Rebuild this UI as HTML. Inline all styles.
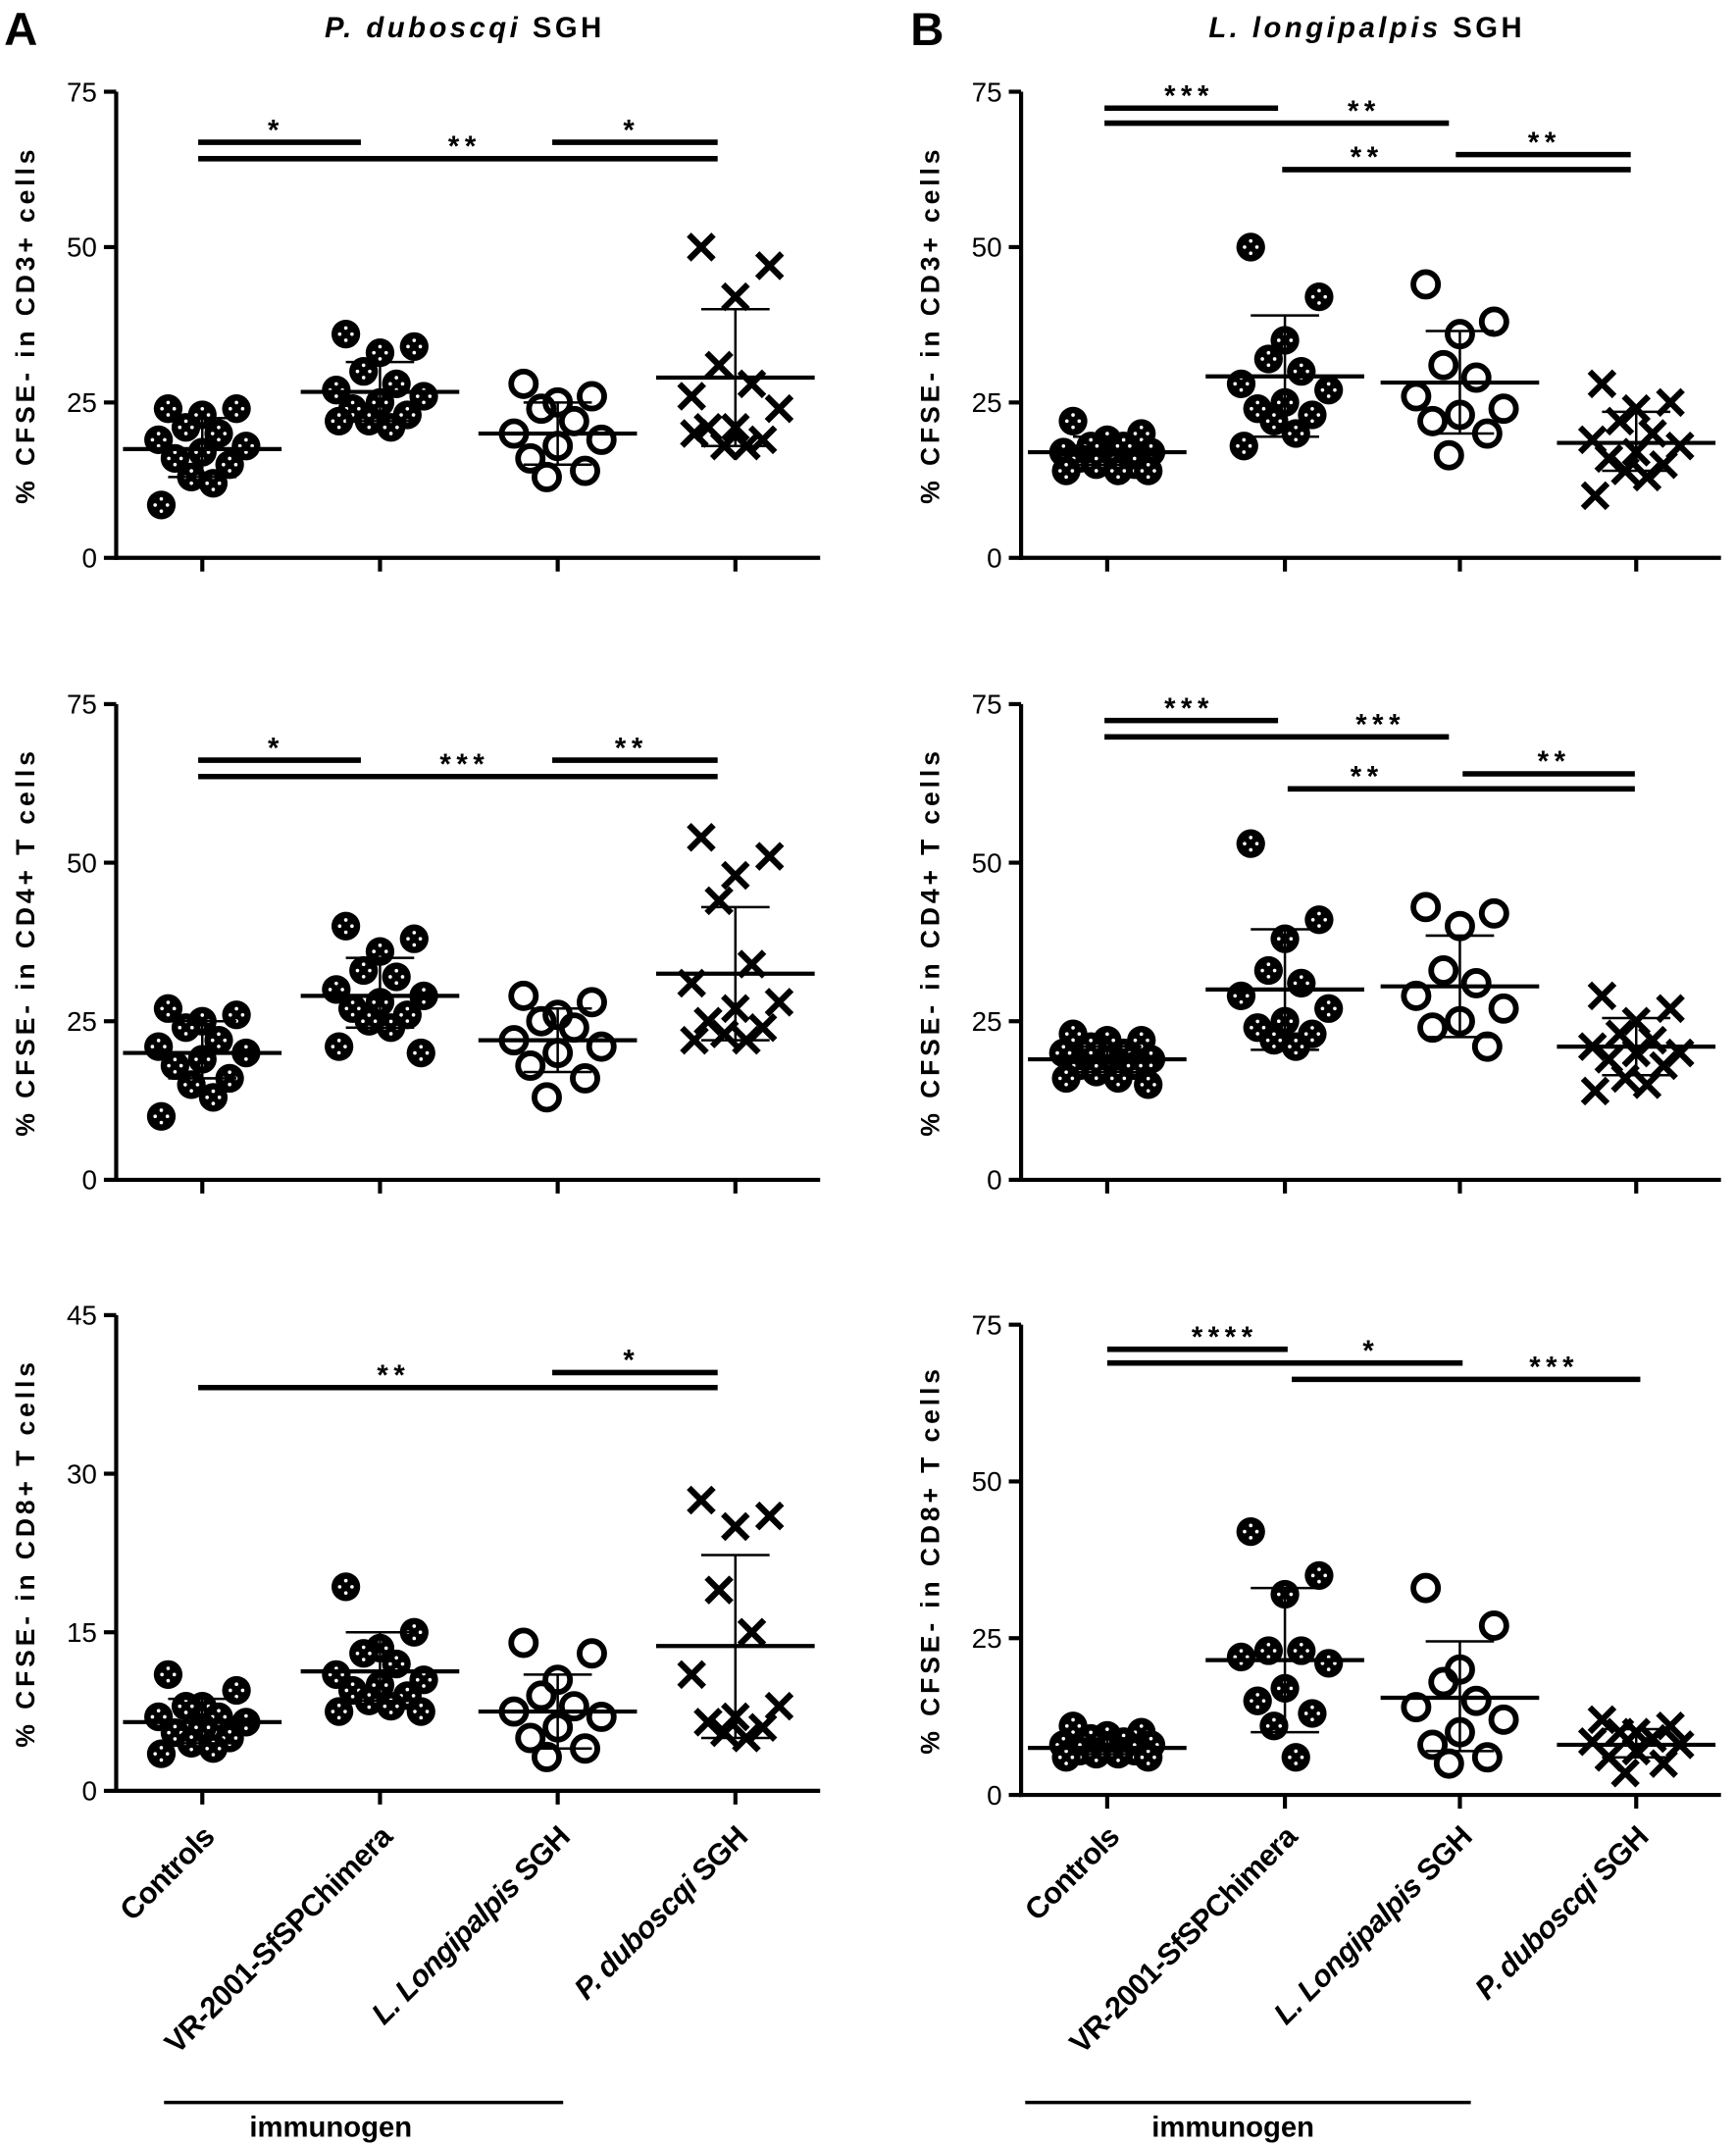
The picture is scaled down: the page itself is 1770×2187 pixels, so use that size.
<!DOCTYPE html>
<html><head><meta charset="utf-8"><style>html,body{margin:0;padding:0;background:#fff}svg{display:block}</style></head>
<body>
<svg id="s" xmlns="http://www.w3.org/2000/svg" width="1770" height="2187" viewBox="0 0 1270 1569" font-family="Liberation Sans, Arial, sans-serif">
<defs>
<g id="fc"><circle r="10.5" fill="#000"/><circle cx="0" cy="-4.5" r="1.3" fill="#fff"/><circle cx="0" cy="4.5" r="1.3" fill="#fff"/><circle cx="-4.5" cy="0" r="1.3" fill="#fff"/><circle cx="4.5" cy="0" r="1.3" fill="#fff"/></g>
<g id="oc"><circle r="9" fill="none" stroke="#000" stroke-width="4.2"/></g>
<g id="xx"><path d="M-9,-9L9,9M9,-9L-9,9" stroke="#000" stroke-width="4.5"/></g>
</defs>
<text x="3" y="33" font-size="34" font-weight="bold">A</text>
<text x="666" y="33" font-size="34" font-weight="bold">B</text>
<text x="340" y="27" font-size="21" font-weight="bold" text-anchor="middle" letter-spacing="2.5"><tspan font-style="italic">P. duboscqi</tspan> SGH</text>
<text x="1000" y="27" font-size="21" font-weight="bold" text-anchor="middle" letter-spacing="2.5"><tspan font-style="italic">L. longipalpis</tspan> SGH</text>
<g id="plots"></g>
</svg>
<script>
const NS="http://www.w3.org/2000/svg";const P=document.getElementById('plots');
function el(t,a,txt){const e=document.createElementNS(NS,t);for(const k in a)e.setAttribute(k,a[k]);if(txt!==undefined)e.textContent=txt;P.appendChild(e);return e;}
function line(x1,y1,x2,y2,w){el('line',{x1,y1,x2,y2,stroke:'#000','stroke-width':w||2});}
const marks=['fc','fc','oc','xx'];
function panel(o){
 const {ax,xs,ytop,ybot,max,ticks,label,groups,brackets}=o;
 const sy=v=>ybot-(v/max)*(ybot-ytop);
 const xend=xs[3]+62;
 line(ax,ytop,ax,ybot+1.5,3);line(ax-1.5,ybot,xend,ybot,3);
 ticks.forEach(t=>{line(ax-9,sy(t),ax,sy(t),3);el('text',{x:ax-14,y:sy(t)+7,'font-size':20,'text-anchor':'end'},t);});
 xs.forEach(x=>line(x,ybot,x,ybot+10,3));
 const cy=(ytop+ybot)/2;
 el('text',{x:0,y:0,'font-size':19,'font-weight':'bold','text-anchor':'middle','letter-spacing':'2.8',transform:`translate(${ax-60},${cy}) rotate(-90)`},label);
 groups.forEach((g,i)=>{
  const x=xs[i];
  g.v.forEach((v,j)=>{const off=g.o[j];el('use',{href:'#'+marks[i],x:x+off,y:sy(v)});});
  line(x-58,sy(g.m),x+58,sy(g.m),3);
  line(x,sy(g.lo),x,sy(g.hi),1.8);
  line(x-25,sy(g.lo),x+25,sy(g.lo),1.8);line(x-25,sy(g.hi),x+25,sy(g.hi),1.8);
 });
 brackets.forEach(b=>{line(b[0],b[1],b[2],b[1],4);el('text',{x:b[3],y:b[1]-2,'font-size':21,'font-weight':'bold','text-anchor':'middle','letter-spacing':'4'},b[4]);});
}
const XA=[148,278,408,538],XB=[810,940,1068,1197];
const off13=[-25,25,0,-12,12,-32,32,0,-20,20,-8,8,-30,30];
function mk(m,lo,hi,v){return {m,lo,hi,v,o:v.map((_,j)=>off13[j%off13.length])};}
panel({ax:85,xs:XA,ytop:67,ybot:408,max:75,ticks:[0,25,50,75],label:'% CFSE- in CD3+ cells',
 groups:[mk(17.5,13,22.5,[24,24,23,21,20,19,18,17,16,15,13,12,8.5]),mk(26.7,22,31.5,[36,34,33,30,28,27,26,25,24,23,22,21,22]),mk(20,15,25,[28,26,25,24,22,20,19,18,16,14,13]),mk(29,18,40,[50,47,42,31,28,26,24,21,21,19,18,18,20])],
 brackets:[[145,104,264,202,'*'],[404,104,525,462,'*'],[145,116,525,340,'**']]});
panel({ax:85,xs:XA,ytop:515,ybot:863,max:75,ticks:[0,25,50,75],label:'% CFSE- in CD4+ T cells',
 groups:[mk(20,16,25,[27,26,25,24,22,21,20,19,18,16,15,13,10]),mk(29,24,35,[40,38,36,33,32,30,29,28,27,26,25,24,21,20]),mk(22,17,27,[29,28,26,25,24,22,21,20,18,16,13]),mk(32.5,22,43,[54,51,48,44,34,31,28,27,25,24,23,22,22])],
 brackets:[[145,556,264,202,'*'],[404,556,525,462,'**'],[145,568,525,340,'***']]});
panel({ax:85,xs:XA,ytop:962,ybot:1310,max:45,ticks:[0,15,30,45],label:'% CFSE- in CD8+ T cells',
 groups:[mk(6.5,4.5,8.7,[11,9.5,8,8,7,7,6.5,6,5.5,5,4.5,4,3.5]),mk(11.3,8.5,15,[19.3,15,13.5,13,12,11,10.5,10,9.5,9,8.5,8,7.5,7.5]),mk(7.5,4,11,[14,13,10.5,9,8,7.5,7,6,5,4,3.2]),mk(13.7,5,22.3,[27.5,26,25,19,15,11,8,7,6.5,6,5.5,5])],
 brackets:[[404,1004,525,462,'*'],[145,1015,525,288,'**']]});
panel({ax:747,xs:XB,ytop:67,ybot:408,max:75,ticks:[0,25,50,75],label:'% CFSE- in CD3+ cells',
 groups:[mk(17,15,19.5,[22,20,19,18,18,17,17,16,16,15,15,14,14,14]),mk(29.2,19.5,39,[50,42,35,32,30,28,27,25,24,23,22,20,18]),mk(28.2,20,36.5,[44,38,36,31,29,26,24,23,22,20,16.5]),mk(18.5,14,23.5,[28,25,24,22,20,19,18,17,16,15,14,13,10])],
 brackets:[[808,79,935,870,'***'],[808,90,1060,998,'**'],[1065,113,1193,1130,'**'],[938,124,1193,1000,'**']]});
panel({ax:747,xs:XB,ytop:515,ybot:863,max:75,ticks:[0,25,50,75],label:'% CFSE- in CD4+ T cells',
 groups:[mk(19,17,21,[23,22,22,21,20,20,19,19,18,18,17,16,16,15]),mk(30,20.5,39.5,[53,41,38,33,31,29,27,25,24,23,22,21]),mk(30.5,22.5,38.5,[43,42,40,33,31,29,27,25,24,21]),mk(21,16.5,25.5,[29,27,25,23,22,21,20,20,19,18,16,15,14])],
 brackets:[[808,527,935,870,'***'],[808,539,1060,1010,'***'],[1070,566,1196,1137,'**'],[942,577,1196,1000,'**']]});
panel({ax:747,xs:XB,ytop:969,ybot:1313,max:75,ticks:[0,25,50,75],label:'% CFSE- in CD8+ T cells',
 groups:[mk(7.5,6.5,9,[11,10,9.5,9,8.5,8,8,7.5,7,7,6.5,6.5,6,6]),mk(21.5,10,33,[42,35,32,23,23,22,21,17,15,13,11,6]),mk(15.5,7,24.5,[33,27,20,18,15,14,12,10,8,6,5]),mk(8,6,10.5,[12,11,10,10,9,8.5,8,7,6,5,3.5])],
 brackets:[[810,987,942,896,'****'],[810,997,1070,1003,'*'],[945,1009,1200,1137,'***']]});
const names=[['Controls'],['VR-2001-SfSPChimera'],['L. Longipalpis',' SGH'],['P. duboscqi',' SGH']];
[XA,XB].forEach(xs=>xs.forEach((x,i)=>{
 const t=el('text',{x:0,y:0,'font-size':22,'font-weight':'bold','text-anchor':'end','letter-spacing':'-0.5',transform:`translate(${x+10},${1345}) rotate(-45)`});
 const n=names[i];
 if(n.length==1)t.textContent=n[0];else{const a=document.createElementNS(NS,'tspan');a.setAttribute('font-style','italic');a.textContent=n[0];t.appendChild(a);t.appendChild(document.createTextNode(n[1]));}
}));
line(120,1538,412,1538,2.5);line(750,1538,1076,1538,2.5);
el('text',{x:242,y:1563,'font-size':21,'font-weight':'bold','text-anchor':'middle'},'immunogen');
el('text',{x:902,y:1563,'font-size':21,'font-weight':'bold','text-anchor':'middle'},'immunogen');
</script>
</body></html>
